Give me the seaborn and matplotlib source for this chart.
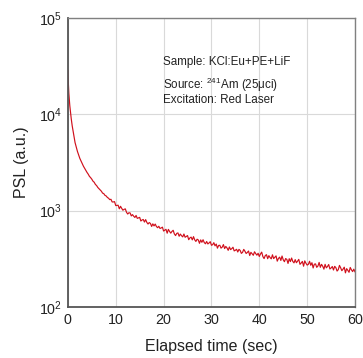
import numpy as np
import pandas as pd
import matplotlib
matplotlib.use("Agg")
import matplotlib.pyplot as plt
import seaborn as sns
from matplotlib.ticker import LogLocator, LogFormatterMathtext, NullLocator

# ---- data ----
t_early = [0, 0.05, 0.1, 0.15, 0.2, 0.3, 0.4, 0.5, 0.6, 0.7, 0.8, 0.9]
psl_early = [28700, 24000, 21000, 18500, 16500, 14000, 12300, 11000, 10000, 9000, 8200, 7600]

t_step = 0.25
t_start = 1.0
psl_main = [
    # 1.0 - 8.75
    7100, 6020, 5080, 4560, 4110, 3790, 3480, 3270,
    3070, 2890, 2750, 2610, 2490, 2390, 2270, 2200,
    2120, 2020, 1970, 1870, 1820, 1740, 1690, 1640,
    1590, 1520, 1500, 1440, 1420, 1370, 1345, 1300,
    # 9.0 - 19.75
    1311, 1230, 1230, 1240, 1128, 1133, 1138, 1044,
    1109, 1055, 1010, 1031, 1043, 961, 922, 950,
    947, 881, 909, 875, 849, 891, 831, 842,
    851, 780, 800, 809, 761, 807, 754, 726,
    752, 736, 685, 729, 694, 725, 684, 665,
    688, 653, 661, 674,
    # 20.0 - 39.75
    614, 627, 640, 583, 639, 608, 584, 608,
    625, 573, 551, 581, 587, 542, 571, 549,
    534, 572, 529, 540, 551, 499, 521, 531,
    497, 537, 498, 479, 505, 496, 458, 497,
    469, 499, 466, 453, 478, 451, 462, 476,
    437, 443, 465, 431, 450, 408, 435, 437,
    408, 418, 444, 404, 425, 410, 387, 420,
    394, 403, 417, 382, 388, 397, 372, 396,
    386, 360, 369, 396, 379, 359, 368, 381,
    342, 369, 356, 344, 374, 358, 345, 361,
    # 40.0 - 60.0
    334, 355, 371, 333, 318, 342, 349, 317,
    341, 326, 316, 348, 318, 328, 339, 299,
    319, 329, 304, 338, 309, 295, 318, 312,
    283, 317, 296, 322, 297, 287, 310, 288,
    299, 312, 277, 286, 297, 265, 301, 284,
    272, 277, 298, 271, 288, 254, 278, 280,
    258, 266, 290, 258, 277, 265, 247, 277,
    255, 263, 276, 248, 254, 263, 242, 264,
    256, 236, 244, 270, 255, 238, 247, 259,
    226, 250, 240, 229, 257, 243, 233, 247,
    231,
]
t_main = [t_start + i * t_step for i in range(len(psl_main))]

x_ticks = [0, 10, 20, 30, 40, 50, 60]
annotation_lines = [
    "Sample: KCl:Eu+PE+LiF",
    r"Source: $\mathdefault{^{241}}$Am (25μci)",
    "Excitation: Red Laser",
]

df = pd.DataFrame({"time": list(t_early) + t_main,
                   "psl": list(psl_early) + psl_main})

# ---- style ----
sns.set_style("white")
plt.rcParams["font.family"] = ["Liberation Sans", "DejaVu Sans"]
plt.rcParams["mathtext.fontset"] = "custom"
plt.rcParams["mathtext.rm"] = "Liberation Sans"
plt.rcParams["mathtext.it"] = "Liberation Sans:italic"
plt.rcParams["mathtext.bf"] = "Liberation Sans:bold"

fig = plt.figure(figsize=(3.63, 3.58), dpi=100)
ax = fig.add_axes([0.187, 0.1425, 0.791, 0.8075])

sns.lineplot(data=df, x="time", y="psl", ax=ax, color="#d0101c",
             linewidth=0.85, estimator=None, sort=False)

ax.set_yscale("log")
ax.set_xlim(0, 60)
ax.set_ylim(100, 100000)
ax.set_xticks(x_ticks)
ax.yaxis.set_major_locator(LogLocator(base=10, numticks=10))
ax.yaxis.set_major_formatter(LogFormatterMathtext())
ax.yaxis.set_minor_locator(NullLocator())

ax.grid(True, which="major", color="#d9d9d9", linewidth=0.8)
ax.set_axisbelow(True)
ax.tick_params(axis="both", which="both", length=0, labelsize=10.3,
               labelcolor="#222222", pad=4)

for side in ["left", "bottom"]:
    ax.spines[side].set_color("#555555")
    ax.spines[side].set_linewidth(1.3)
for side in ["top", "right"]:
    ax.spines[side].set_color("#808080")
    ax.spines[side].set_linewidth(1.0)
    ax.spines[side].set_visible(True)

ax.set_xlabel("Elapsed time (sec)", fontsize=11.5, color="#222222", labelpad=9)
ax.set_ylabel("PSL (a.u.)", fontsize=11.5, color="#222222", labelpad=7)

ys = [0.848, 0.768, 0.716]
for txt, yy in zip(annotation_lines, ys):
    ax.text(0.331, yy, txt, transform=ax.transAxes, fontsize=8.4,
            color="#222222", va="center", ha="left")

fig.savefig("out.png", dpi=100)
